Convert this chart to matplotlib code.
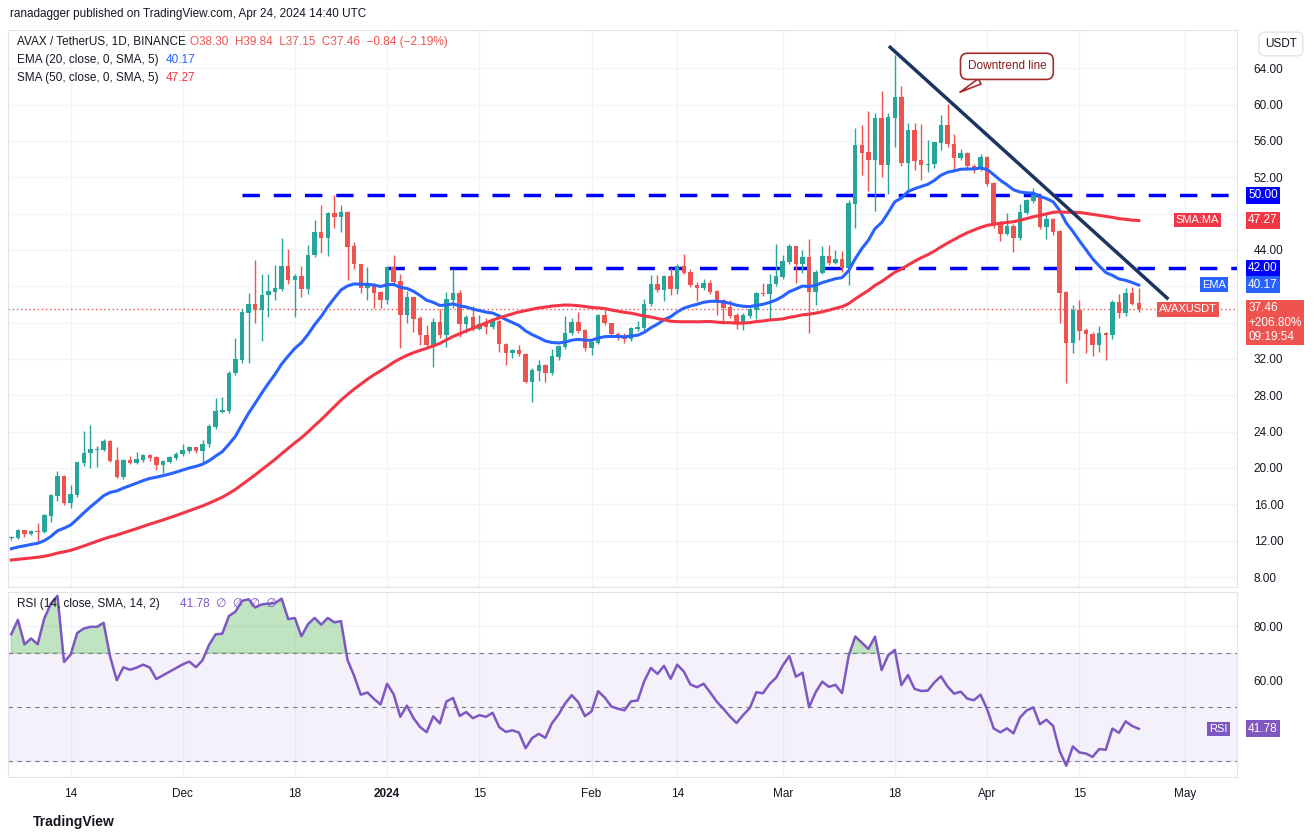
import numpy as np
import pandas as pd
import matplotlib
matplotlib.use('Agg')
from matplotlib import pyplot as plt

# daily candles, Nov 5 2023 .. Apr 24 2024
closes = [12.3, 13.1, 12.7, 13.0, 12.9, 14.7, 16.9, 19.0, 16.1, 17.0, 20.6, 21.6, 22.0, 22.0, 22.9, 20.8,
          19.0, 20.8, 20.6, 20.9, 21.3, 21.1, 20.3, 20.7, 21.1, 21.5,
          21.9, 22.2, 21.9, 22.6, 24.5, 26.2, 26.3, 30.4, 31.9, 37.1, 38.0, 37.4, 39.0, 39.4, 39.7, 42.2,
          40.7, 41.1, 39.7, 43.4, 45.9, 45.3, 48.0, 47.6, 48.1, 44.3, 42.4, 39.8, 40.2, 39.3, 38.5,
          42.0, 40.5, 36.8, 38.7, 36.4, 34.6, 33.5, 36.0, 34.6, 38.5, 39.2, 35.8, 36.5, 35.3, 35.8, 35.5,
          36.1, 33.6, 32.7, 32.9, 32.5, 29.5, 30.7, 31.2, 30.5, 32.2, 33.3, 34.8, 36.0, 35.1, 33.2,
          33.8, 36.7, 35.9, 34.7, 34.4, 34.2, 35.3, 35.4, 38.0, 40.2, 39.6, 41.0, 39.7, 42.2, 41.5, 40.1,
          39.8, 40.3, 39.4, 38.4, 37.6, 36.7, 35.9, 36.7, 37.4, 39.2, 39.1, 40.2, 41.0,
          42.7, 44.3, 42.5, 43.1, 39.4, 41.5, 43.2, 42.6, 42.9, 42.0, 49.1, 55.5, 54.7, 53.9, 58.4, 53.3,
          58.5, 60.7, 53.6, 57.1, 53.8, 53.3, 53.4, 55.8, 57.7, 55.6, 54.1, 54.6, 53.2, 52.9, 54.1,
          51.3, 46.8, 45.8, 46.5, 45.3, 48.1, 49.4, 50.0, 46.5, 47.3, 46.0, 39.3, 33.8, 37.3, 35.1, 34.7,
          33.5, 34.8, 34.6, 38.2, 37.1, 39.2, 38.1, 37.46]
highs = [12.5, 13.3, 13.2, 13.2, 13.9, 14.9, 17.1, 19.7, 19.2, 18.1, 20.7, 24.1, 24.7, 22.4, 23.2, 23.1,
         22.3, 21.0, 21.3, 21.8, 21.5, 21.5, 21.3, 20.9, 21.3, 21.8,
         22.6, 22.4, 22.3, 23.1, 24.8, 27.7, 27.8, 30.7, 34.3, 37.5, 39.3, 42.9, 41.4, 41.4, 42.3, 45.3,
         44.1, 41.3, 42.2, 44.5, 47.3, 48.9, 48.2, 50.0, 48.9, 48.3, 44.9, 42.4, 42.1, 40.4, 39.5,
         42.2, 43.4, 41.4, 39.5, 38.8, 36.7, 35.7, 36.5, 37.5, 39.4, 41.9, 39.6, 36.8, 37.8, 36.8, 36.5,
         36.5, 36.3, 33.8, 33.1, 33.5, 32.7, 31.0, 31.9, 31.4, 33.1, 33.5, 36.7, 36.5, 37.2, 35.3,
         34.0, 36.9, 37.4, 36.0, 35.0, 34.8, 35.5, 36.2, 38.6, 41.2, 41.2, 41.2, 42.0, 42.5, 43.6, 41.9,
         40.5, 40.8, 40.7, 39.6, 38.6, 38.5, 37.0, 37.0, 37.6, 39.4, 40.4, 41.3, 44.6,
         43.4, 44.6, 44.4, 44.0, 45.2, 41.8, 44.4, 44.5, 44.0, 43.9, 49.5, 57.4, 57.7, 59.3, 59.1, 61.5,
         59.1, 65.4, 62.0, 58.0, 58.0, 57.8, 56.1, 55.9, 58.9, 60.1, 56.7, 55.1, 54.8, 53.5, 54.5,
         54.3, 51.5, 47.2, 48.1, 46.8, 49.1, 49.6, 50.8, 50.1, 48.0, 47.5, 46.2, 39.5, 37.9, 38.5, 35.4,
         35.0, 35.6, 35.0, 38.5, 39.2, 39.8, 39.9, 39.84]
lows = [12.1, 12.2, 12.4, 12.6, 11.9, 12.8, 14.0, 16.4, 15.9, 15.6, 16.8, 20.2, 20.0, 20.1, 21.9, 20.7,
        18.9, 18.8, 20.4, 20.4, 20.7, 20.8, 19.8, 19.5, 20.5, 20.9,
        21.3, 21.6, 21.7, 20.7, 22.3, 24.3, 26.0, 26.0, 30.2, 31.5, 31.6, 36.0, 34.0, 36.6, 38.5, 39.5,
        40.3, 36.6, 38.8, 39.2, 43.2, 43.7, 43.3, 46.4, 46.0, 40.7, 41.9, 39.3, 38.5, 37.6, 37.6,
        38.1, 40.2, 33.2, 35.9, 35.0, 33.5, 33.3, 31.1, 34.3, 33.3, 37.6, 34.4, 34.8, 35.1, 35.2, 34.7,
        35.3, 32.8, 31.3, 32.1, 32.3, 29.3, 27.3, 29.6, 29.5, 30.2, 31.9, 33.1, 34.6, 34.9, 32.9,
        32.4, 33.6, 35.7, 34.5, 34.1, 33.8, 34.0, 35.1, 35.1, 37.8, 39.4, 38.4, 39.0, 39.2, 41.3, 39.9,
        38.4, 39.6, 39.2, 36.8, 36.0, 36.5, 35.3, 35.2, 36.5, 36.4, 38.9, 36.3, 40.0,
        40.8, 42.5, 40.4, 41.5, 34.9, 37.9, 41.3, 42.3, 42.4, 41.6, 40.1, 46.4, 52.2, 50.5, 48.3, 52.0,
        50.1, 55.3, 53.2, 50.6, 52.8, 51.7, 52.6, 53.0, 55.0, 55.3, 52.7, 53.9, 52.8, 52.5, 52.7,
        51.0, 46.4, 45.0, 45.6, 43.8, 45.1, 47.9, 49.2, 46.3, 45.2, 45.6, 35.9, 29.3, 32.7, 34.1, 32.7,
        32.3, 32.8, 31.9, 34.2, 36.5, 36.7, 37.9, 37.15]
first_open = 12.3
# closes before the visible window (mid Sep .. Nov 4), only for warming up the indicators
warmup = [9.3, 9.2, 9.0, 9.1, 9.3, 9.4, 9.2, 9.0, 8.9, 9.0, 9.2, 9.1, 9.0, 9.3, 9.6, 9.4, 9.2, 9.1,
          9.0, 8.9, 8.8, 8.9, 9.0, 9.1, 9.0, 8.9, 8.8, 8.9, 9.0, 9.2, 9.6, 9.9, 9.7, 9.6, 9.8, 10.5,
          10.9, 10.7, 10.8, 11.0, 11.3, 11.1, 11.0, 11.2, 11.5, 11.4, 11.6, 12.0, 11.9, 12.2]

tick_idx = [9, 26, 43, 57, 71, 88, 101, 117, 134, 148, 162, 178]
tick_lbl = ['14', 'Dec', '18', '2024', '15', 'Feb', '14', 'Mar', '18', 'Apr', '15', 'May']
price_grid = [8, 12, 16, 20, 24, 28, 32, 36, 40, 44, 48, 52, 56, 60, 64]
price_ticks = [8, 12, 16, 20, 24, 28, 32, 44, 52, 56, 60, 64]   # the rest sit under the price tags
rsi_ticks = [60, 80]
levels = [50.0, 42.0]
level_start = [35, 57]

UP, DN = '#26a69a', '#ef5350'
EMA_C, SMA_C, RSI_C = '#2962ff', '#f23645', '#7e57c2'
GRID = '#f0f3fa'
FS = 8.5

allc = pd.Series(warmup + closes)
ema = allc.ewm(span=20, adjust=False).mean().values[len(warmup):]
sma = allc.rolling(50, min_periods=1).mean().values[len(warmup):]
d = allc.diff()
gain = d.clip(lower=0).ewm(alpha=1/14, adjust=False).mean()
loss = (-d.clip(upper=0)).ewm(alpha=1/14, adjust=False).mean()
rsi = (100 - 100 / (1 + gain / loss)).values[len(warmup):]

c = np.array(closes)
o = np.concatenate([[first_open], c[:-1]])
h = np.array(highs)
l = np.array(lows)
x = np.arange(len(c))

W, H = 1315, 839
plt.rcParams['font.family'] = ['Liberation Sans', 'DejaVu Sans']
fig = plt.figure(figsize=(W / 100, H / 100), dpi=100)

ax = fig.add_axes([8 / W, (H - 587) / H, (1237 - 8) / W, (587 - 30) / H])
ar = fig.add_axes([8 / W, (H - 777) / H, (1237 - 8) / W, (777 - 592) / H], sharex=ax)

for a in (ax, ar):
    for s in a.spines.values():
        s.set_color('#e0e3eb')
    a.yaxis.tick_right()
    a.tick_params(axis='y', length=0, labelsize=FS, colors='#131722', pad=12)
    a.tick_params(axis='x', length=0)
    for t in tick_idx:
        a.axvline(t, color=GRID, lw=1, zorder=0)

# candles
col = np.where(c >= o, UP, DN)
ax.vlines(x, l, h, colors=col, lw=1, zorder=3)
ax.bar(x, np.abs(c - o) + 0.08, bottom=np.minimum(o, c), width=0.68, color=col, zorder=4)
ax.plot(x, ema, color=EMA_C, lw=2.2, zorder=5)
ax.plot(x, sma, color=SMA_C, lw=2.2, zorder=5)
for lv, st in zip(levels, level_start):
    ax.hlines(lv, st, 190, colors='#0000ff', lw=2.5, linestyles=(0, (5, 4)), zorder=2)
ax.axhline(c[-1], color=DN, lw=1, ls=(0, (1, 2)), zorder=1)
ax.plot([133.3, 175.3], [66.3, 38.7], color='#1c3461', lw=2.5, zorder=6)

ax.set_xlim(-0.5, 185.9)
ax.set_ylim(6.9, 68.2)
ax.set_yticks(price_ticks)
ax.set_yticklabels([f'{v:.2f}' for v in price_ticks])
for v in price_grid:
    ax.axhline(v, color=GRID, lw=1, zorder=0)
plt.setp(ax.get_xticklabels(), visible=False)


def tag(a, y, txt, bg, dx=8, dy=0, va='center', fs=FS):
    a.annotate(txt, xy=(1.0, y), xycoords=('axes fraction', 'data'), xytext=(dx, dy),
               textcoords='offset points', va=va, ha='left', fontsize=fs, color='white',
               linespacing=1.25, bbox=dict(boxstyle='square,pad=0.2', fc=bg, ec='none'),
               zorder=10, annotation_clip=False)


tag(ax, 50.0, '50.00', '#0000ff')
tag(ax, 47.27, '47.27', SMA_C)
tag(ax, 42.0, '42.00', '#0000ff')
tag(ax, 40.17, '40.17', EMA_C)
tag(ax, 37.46, '37.46\n+206.80%\n09:19:54', DN, dy=5, va='top')
tag(ax, 47.27, 'SMA:MA', SMA_C, dx=-44, fs=8)
tag(ax, 40.17, 'EMA', EMA_C, dx=-25, fs=8)
tag(ax, 37.46, 'AVAXUSDT', DN, dx=-56, fs=8)

# callout
ax.annotate('Downtrend line', xy=(143.5, 61.2), xytext=(151, 64.2), fontsize=FS, color='#8b1a1a',
            ha='center', va='center',
            bbox=dict(boxstyle='round,pad=0.6', fc='white', ec='#a52a2a', lw=1.2),
            arrowprops=dict(arrowstyle='wedge,tail_width=0.5', fc='white', ec='#a52a2a', lw=1.2),
            zorder=9)

# RSI panel
ar.plot(x, rsi, color=RSI_C, lw=1.8, zorder=4)
ar.axhspan(30, 70, color=RSI_C, alpha=0.08, zorder=0)
for lv in (70, 50, 30):
    ar.axhline(lv, color='#787b86', lw=0.8, ls=(0, (4, 4)), zorder=1)
ar.fill_between(x, 70, rsi, where=rsi > 70, interpolate=True, color='#4caf50', alpha=0.35, zorder=2)
ar.fill_between(x, 30, rsi, where=rsi < 30, interpolate=True, color='#f23645', alpha=0.35, zorder=2)
ar.set_ylim(24.1, 92.6)
ar.set_yticks(rsi_ticks)
ar.set_yticklabels([f'{v:.2f}' for v in rsi_ticks])
for v in rsi_ticks + [40]:
    ar.axhline(v, color=GRID, lw=1, zorder=0)
ar.set_xticks(tick_idx)
ar.set_xticklabels(tick_lbl, fontsize=FS, color='#131722')
ar.get_xticklabels()[3].set_fontweight('bold')
ar.tick_params(axis='x', pad=8)
tag(ar, rsi[-1], '41.78', RSI_C)
tag(ar, rsi[-1], 'RSI', RSI_C, dx=-20, fs=8)


def ftxt(px, py, s, color='#131722', **kw):
    fig.text(px / W, 1 - py / H, s, fontsize=FS, color=color, va='center', **kw)


ftxt(10, 14, 'ranadagger published on TradingView.com, Apr 24, 2024 14:40 UTC')
ftxt(17, 42, 'AVAX / TetherUS, 1D, BINANCE')
ftxt(190, 42, 'O38.30  H39.84  L37.15  C37.46  −0.84 (−2.19%)', color=DN)
ftxt(17, 60, 'EMA (20, close, 0, SMA, 5)')
ftxt(166, 60, '40.17', color=EMA_C)
ftxt(17, 78, 'SMA (50, close, 0, SMA, 5)')
ftxt(166, 78, '47.27', color=SMA_C)
ftxt(17, 604, 'RSI (14, close, SMA, 14, 2)')
ftxt(180, 604, '41.78  ∅  ∅  ∅  ∅', color=RSI_C)
ftxt(1265, 44, 'USDT', bbox=dict(boxstyle='round,pad=0.5', fc='white', ec='#e0e3eb'))
fig.text(33 / W, 1 - 822 / H, 'TradingView', fontsize=10, color='#131722', va='center', fontweight='bold')

fig.savefig('out.png', dpi=100, facecolor='white')
